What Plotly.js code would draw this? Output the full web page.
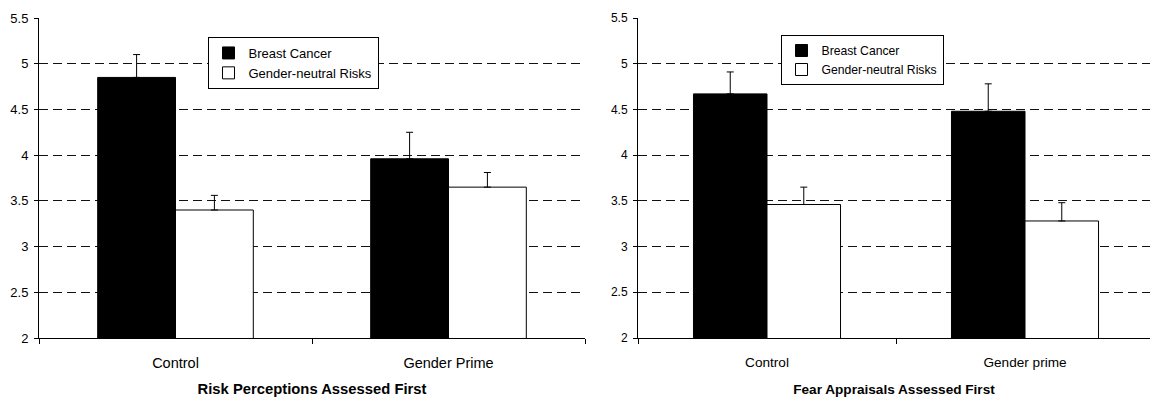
<!DOCTYPE html>
<html>
<head>
<meta charset="utf-8">
<script src="https://cdn.plot.ly/plotly-3.0.1.min.js"></script>
<style>html,body{margin:0;padding:0;background:#fff;}#chart{width:1150px;height:397px;}</style>
</head>
<body>
<div id="chart"></div>
<script>
// ---- data ----
const seriesNames = ['Breast Cancer', 'Gender-neutral Risks'];
const categoriesLeft = ['Control', 'Gender Prime'];
const categoriesRight = ['Control', 'Gender prime'];
const titleLeft = 'Risk Perceptions Assessed First';
const titleRight = 'Fear Appraisals Assessed First';

const riskBreast = [4.85, 3.96];
const riskBreastErr = [0.25, 0.29];
const riskNeutral = [3.40, 3.65];
const riskNeutralErr = [0.16, 0.16];

const fearBreast = [4.67, 4.48];
const fearBreastErr = [0.24, 0.30];
const fearNeutral = [3.46, 3.28];
const fearNeutralErr = [0.19, 0.20];

const yTicks = [2, 2.5, 3, 3.5, 4, 4.5, 5, 5.5];

// ---- build ----
const FONT = 'Arial, "Liberation Sans", sans-serif';
function zeros(a){ return a.map(() => 0); }
function errBar(arr){
  return {type:'data', symmetric:false, array:arr, arrayminus:zeros(arr),
          color:'#000', thickness:1, width:3.5, visible:true};
}
function barTrace(x, y, err, name, fill, xa, ya, lg){
  return {type:'bar', x:x, y:y, name:name, xaxis:xa, yaxis:ya, legend:lg,
          marker:{color:fill, line:{color:'#000', width:1}},
          error_y:errBar(err), hoverinfo:'x+y'};
}

const traces = [
  barTrace(categoriesLeft, riskBreast, riskBreastErr, seriesNames[0], '#000', 'x', 'y', 'legend'),
  barTrace(categoriesLeft, riskNeutral, riskNeutralErr, seriesNames[1], '#fff', 'x', 'y', 'legend'),
  barTrace(categoriesRight, fearBreast, fearBreastErr, seriesNames[0], '#000', 'x2', 'y2', 'legend2'),
  barTrace(categoriesRight, fearNeutral, fearNeutralErr, seriesNames[1], '#fff', 'x2', 'y2', 'legend2')
];

const W = 1150, H = 397;
const yDom = [1 - 338/H, 1 - 18/H];

function xAxis(domain, range, tickSize, titleText, titleSize, anchor){
  return {
    domain: domain, anchor: anchor, type:'category', range: range,
    showline:true, linecolor:'#000', linewidth:1,
    ticks:'outside', tickson:'boundaries', ticklen:5, tickcolor:'#000', tickwidth:1,
    showgrid:false, zeroline:false,
    tickfont:{family:FONT, size:tickSize, color:'#000'},
    ticklabelstandoff: 12,
    title:{text:titleText, font:{family:FONT, size:titleSize, color:'#000', weight:'bold'}, standoff:15},
    automargin:false, fixedrange:true
  };
}
function yAxis(tickSize, anchor){
  return {
    domain: yDom, anchor: anchor, range:[2, 5.5], tickvals: yTicks,
    showline:true, linecolor:'#000', linewidth:1,
    ticks:'outside', ticklen:4, tickcolor:'#000', tickwidth:1,
    showgrid:true, gridcolor:'#111', gridwidth:1, griddash:'9px,5px',
    zeroline:false,
    tickfont:{family:FONT, size:tickSize, color:'#000'},
    ticklabelstandoff: 3,
    automargin:false, fixedrange:true
  };
}

const layout = {
  width:W, height:H,
  margin:{l:0, r:0, t:0, b:0},
  paper_bgcolor:'#fff', plot_bgcolor:'rgba(0,0,0,0)',
  barmode:'group', bargap:0.43, bargroupgap:0,
  font:{family:FONT, color:'#000'},
  showlegend:true,
  xaxis: xAxis([39/W, 585/W], [-0.5, 1.5], 14.5, titleLeft, 14.8, 'y'),
  yaxis: yAxis(13, 'x'),
  xaxis2: xAxis([638/W, 1], [-0.5, 1.5 - 4/258], 13.6, titleRight, 13.6, 'y2'),
  yaxis2: yAxis(12, 'x2'),
  legend:{x:293/W, y:1 - 37/H, xanchor:'center', yanchor:'top',
          bgcolor:'#fff', bordercolor:'#000', borderwidth:1,
          font:{family:FONT, size:13, color:'#000'}, tracegroupgap:0, itemwidth:30},
  legend2:{x:862/W, y:1 - 35/H, xanchor:'center', yanchor:'top',
          bgcolor:'#fff', bordercolor:'#000', borderwidth:1,
          font:{family:FONT, size:12.2, color:'#000'}, tracegroupgap:0, itemwidth:30}
};

Plotly.newPlot('chart', traces, layout, {displayModeBar:false, staticPlot:true});
</script>
</body>
</html>
